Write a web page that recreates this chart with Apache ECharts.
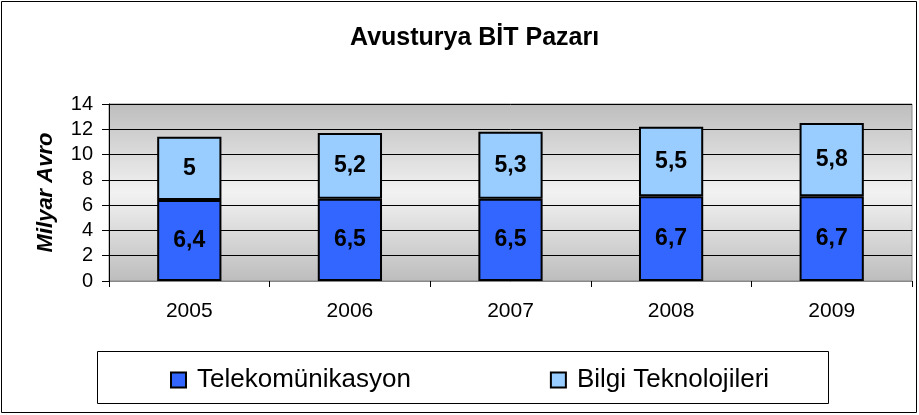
<!DOCTYPE html>
<html>
<head>
<meta charset="utf-8">
<script src="https://cdn.jsdelivr.net/npm/echarts@6/dist/echarts.min.js"></script>
<style>
  html, body { margin: 0; padding: 0; background: #fff; }
  #main { width: 919px; height: 415px; }
</style>
</head>
<body>
<div id="main"></div>
<script>
var years = ['2005', '2006', '2007', '2008', '2009'];
var telekom = [6.4, 6.5, 6.5, 6.7, 6.7];
var bilgi = [5, 5.2, 5.3, 5.5, 5.8];
var yTicks = [0, 2, 4, 6, 8, 10, 12, 14];

var myChart = echarts.init(document.getElementById('main'));

// Türkçe ondalık virgül
function virgul(p) {
  return String(p.value).replace('.', ',');
}

var labelStyle = {
  show: true,
  position: 'inside',
  color: '#000',
  fontFamily: 'Liberation Sans',
  fontWeight: 'bold',
  fontSize: 23,
  formatter: virgul
};

var option = {
  animation: false,
  textStyle: { fontFamily: 'Liberation Sans' },
  title: {
    text: 'Avusturya BİT Pazarı',
    left: 345,
    top: 21,
    textStyle: { fontFamily: 'Liberation Sans', fontWeight: 'bold', fontSize: 25, color: '#000' }
  },
  graphic: [{
    type: 'rect',
    shape: { x: 1.5, y: 1.5, width: 915, height: 411 },
    style: { fill: null, stroke: '#000', lineWidth: 1 },
    silent: true
  }, {
    type: 'rect',
    shape: { x: 97.5, y: 351.5, width: 731, height: 52 },
    style: { fill: null, stroke: '#000', lineWidth: 1 },
    silent: true
  }],
  legend: {
    data: ['Telekomünikasyon', 'Bilgi Teknolojileri'],
    icon: 'rect',
    left: 170,
    top: 367,
    padding: 0,
    itemGap: 139,
    itemWidth: 15,
    itemHeight: 15,
    textStyle: { fontFamily: 'Liberation Sans', fontSize: 26, color: '#000', padding: [0, 0, 0, 6] },
    itemStyle: { borderColor: '#000', borderWidth: 2 }
  },
  grid: {
    left: 109,
    right: 7,
    top: 104,
    bottom: 134,
    show: true,
    borderColor: '#888',
    borderWidth: 1,
    backgroundColor: {
      type: 'linear', x: 0, y: 0, x2: 0, y2: 1,
      colorStops: [
        { offset: 0, color: '#bdbdbd' },
        { offset: 0.5, color: '#f2f2f2' },
        { offset: 1, color: '#bdbdbd' }
      ]
    }
  },
  xAxis: {
    type: 'category',
    data: years,
    axisLine: { lineStyle: { color: '#888' } },
    axisTick: { show: true, length: 6, lineStyle: { color: '#000' } },
    axisLabel: { color: '#000', fontSize: 21, margin: 20 }
  },
  yAxis: {
    type: 'value',
    min: 0,
    max: 14,
    interval: 2,
    name: 'Milyar Avro',
    nameLocation: 'middle',
    nameGap: 52,
    nameTextStyle: { fontFamily: 'Liberation Sans', fontWeight: 'bold', fontStyle: 'italic', fontSize: 22, color: '#000' },
    axisLine: { show: true, lineStyle: { color: '#000' } },
    axisTick: { show: true, length: 7, lineStyle: { color: '#000' } },
    axisLabel: {
      color: '#000', fontSize: 20, margin: 16,
      formatter: function (v) { return yTicks.indexOf(v) >= 0 ? String(v) : ''; }
    },
    splitLine: { show: true, lineStyle: { color: '#000', width: 1 } }
  },
  series: [{
    name: 'Telekomünikasyon',
    type: 'bar',
    stack: 'toplam',
    data: telekom,
    barWidth: '40%',
    itemStyle: { color: '#3366FF', borderColor: '#000', borderWidth: 2 },
    label: labelStyle
  }, {
    name: 'Bilgi Teknolojileri',
    type: 'bar',
    stack: 'toplam',
    data: bilgi,
    barWidth: '40%',
    itemStyle: { color: '#99CCFF', borderColor: '#000', borderWidth: 2 },
    label: labelStyle
  }]
};

myChart.setOption(option);
</script>
</body>
</html>
